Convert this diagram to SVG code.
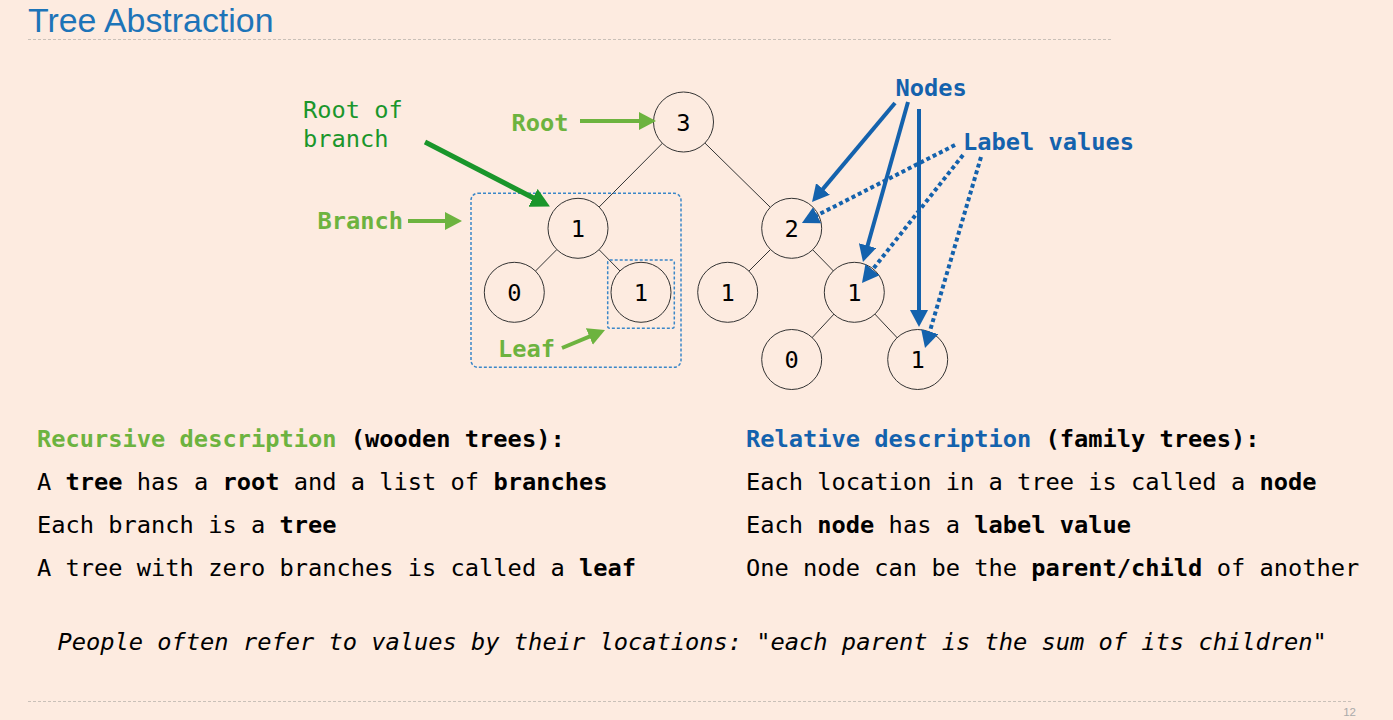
<svg xmlns="http://www.w3.org/2000/svg" width="1393" height="720" viewBox="0 0 1393 720">
<style>
.bg{fill:#fdebe0}
.mono{font-family:"DejaVu Sans Mono","Liberation Mono",monospace;font-size:23.7px;fill:#000}
.b{font-weight:bold}
.lg{fill:#6db33f}
.dg{fill:#1a962b}
.bl{fill:#1462ad}
.node circle{fill:#fdebe0;stroke:#333;stroke-width:1}
.node text{font-family:"DejaVu Sans Mono","Liberation Mono",monospace;font-size:23.7px;fill:#000;text-anchor:middle}
.edge{stroke:#333;stroke-width:1}
.rule{stroke:#c9c0b8;stroke-width:1;stroke-dasharray:3 2}
.box{fill:none;stroke:#3a87c8;stroke-width:1.5;stroke-dasharray:3 2}
.ag{stroke:#6db33f;stroke-width:4;fill:none;marker-end:url(#ahLG)}
.adg{stroke:#1a962b;stroke-width:5;fill:none;marker-end:url(#ahDG)}
.ab{stroke:#1462ad;stroke-width:4;fill:none;marker-end:url(#ahB)}
.abd{stroke:#1462ad;stroke-width:4;fill:none;stroke-dasharray:4 3;marker-end:url(#ahB)}
</style>
<defs>
<marker id="ahLG" markerUnits="userSpaceOnUse" markerWidth="17" markerHeight="18" refX="11" refY="9" orient="auto"><path d="M0,0 L17,9 L0,18 z" fill="#6db33f"/></marker>
<marker id="ahDG" markerUnits="userSpaceOnUse" markerWidth="19" markerHeight="20" refX="12" refY="10" orient="auto"><path d="M0,0 L19,10 L0,20 z" fill="#1a962b"/></marker>
<marker id="ahB" markerUnits="userSpaceOnUse" markerWidth="17" markerHeight="18" refX="11" refY="9" orient="auto"><path d="M0,0 L17,9 L0,18 z" fill="#1462ad"/></marker>
</defs>
<rect class="bg" x="0" y="0" width="1393" height="720"/>

<g id="title">
<text x="28" y="32" font-family="'Liberation Sans',Arial,sans-serif" font-size="33.9" fill="#1d74b8">Tree Abstraction</text>
<line class="rule" x1="28" y1="39.5" x2="1112" y2="39.5"/>
</g>

<g id="tree-edges">
<line class="edge" x1="683.5" y1="122" x2="578" y2="228.3"/>
<line class="edge" x1="683.5" y1="122" x2="791.7" y2="228.3"/>
<line class="edge" x1="578" y1="228.3" x2="514.3" y2="292.3"/>
<line class="edge" x1="578" y1="228.3" x2="641" y2="292.3"/>
<line class="edge" x1="791.7" y1="228.3" x2="727.7" y2="292.3"/>
<line class="edge" x1="791.7" y1="228.3" x2="854.3" y2="292.3"/>
<line class="edge" x1="854.3" y1="292.3" x2="791.7" y2="359.5"/>
<line class="edge" x1="854.3" y1="292.3" x2="917.7" y2="359.5"/>
</g>

<g id="branch-boxes">
<rect class="box" x="471" y="193.3" width="210" height="174" rx="7"/>
<rect class="box" x="607.7" y="260" width="66.6" height="68.3" rx="2"/>
</g>

<g id="node-root" class="node"><circle cx="683.5" cy="122" r="30"/><text x="683.5" y="130.6">3</text></g>
<g id="node-b1" class="node"><circle cx="578" cy="228.3" r="30"/><text x="578" y="236.9">1</text></g>
<g id="node-b1-0" class="node"><circle cx="514.3" cy="292.3" r="30"/><text x="514.3" y="300.9">0</text></g>
<g id="node-b1-1" class="node"><circle cx="641" cy="292.3" r="30"/><text x="641" y="300.9">1</text></g>
<g id="node-b2" class="node"><circle cx="791.7" cy="228.3" r="30"/><text x="791.7" y="236.9">2</text></g>
<g id="node-b2-1" class="node"><circle cx="727.7" cy="292.3" r="30"/><text x="727.7" y="300.9">1</text></g>
<g id="node-b2-2" class="node"><circle cx="854.3" cy="292.3" r="30"/><text x="854.3" y="300.9">1</text></g>
<g id="node-b2-2-0" class="node"><circle cx="791.7" cy="359.5" r="30"/><text x="791.7" y="368.1">0</text></g>
<g id="node-b2-2-1" class="node"><circle cx="917.7" cy="359.5" r="30"/><text x="917.7" y="368.1">1</text></g>

<g id="labels">
<text class="mono dg" x="303" y="117.7">Root of</text>
<text class="mono dg" x="303" y="146.7">branch</text>
<text class="mono b lg" x="511.5" y="130.7">Root</text>
<text class="mono b lg" x="317.5" y="228.5">Branch</text>
<text class="mono b lg" x="498" y="356.5">Leaf</text>
<text class="mono b bl" x="895.5" y="96">Nodes</text>
<text class="mono b bl" x="963" y="149.5">Label values</text>
</g>

<g id="connectors">
<line class="adg" x1="425" y1="142" x2="543.7" y2="203.3"/>
<line class="ag" x1="580" y1="121" x2="650" y2="121"/>
<line class="ag" x1="408" y1="221" x2="456" y2="221"/>
<line class="ag" x1="562" y1="348" x2="599.5" y2="332.3"/>
<line class="ab" x1="895" y1="103" x2="815.9" y2="197.4"/>
<line class="ab" x1="908" y1="102" x2="864.6" y2="256.2"/>
<line class="ab" x1="919" y1="109" x2="919" y2="321"/>
<line class="abd" x1="955" y1="145" x2="807.3" y2="220.3"/>
<line class="abd" x1="963" y1="155" x2="865.7" y2="278.3"/>
<line class="abd" x1="981" y1="157" x2="926.7" y2="342.2"/>
</g>

<g id="recursive-text" xml:space="preserve">
<text class="mono" x="37" y="446.7"><tspan class="b lg">Recursive description</tspan><tspan class="b"> (wooden trees):</tspan></text>
<text class="mono" x="37" y="489.5">A <tspan class="b">tree</tspan> has a <tspan class="b">root</tspan> and a list of <tspan class="b">branches</tspan></text>
<text class="mono" x="37" y="532.5">Each branch is a <tspan class="b">tree</tspan></text>
<text class="mono" x="37" y="575.6">A tree with zero branches is called a <tspan class="b">leaf</tspan></text>
</g>

<g id="relative-text" xml:space="preserve">
<text class="mono" x="746" y="446.7"><tspan class="b bl">Relative description</tspan><tspan class="b"> (family trees):</tspan></text>
<text class="mono" x="746" y="489.5">Each location in a tree is called a <tspan class="b">node</tspan></text>
<text class="mono" x="746" y="532.5">Each <tspan class="b">node</tspan> has a <tspan class="b">label value</tspan></text>
<text class="mono" x="746" y="575.6">One node can be the <tspan class="b">parent/child</tspan> of another</text>
</g>

<g id="footnote" xml:space="preserve">
<text class="mono" x="57.5" y="650"><tspan font-style="italic">People often refer to values by their locations: </tspan><tspan>"</tspan><tspan font-style="italic">each parent is the sum of its children</tspan><tspan>"</tspan></text>
</g>

<g id="footer">
<line class="rule" x1="28" y1="701.5" x2="1353" y2="701.5"/>
<text x="1356" y="716" text-anchor="end" font-family="'Liberation Sans',Arial,sans-serif" font-size="11.5" fill="#aaa">12</text>
</g>
</svg>
